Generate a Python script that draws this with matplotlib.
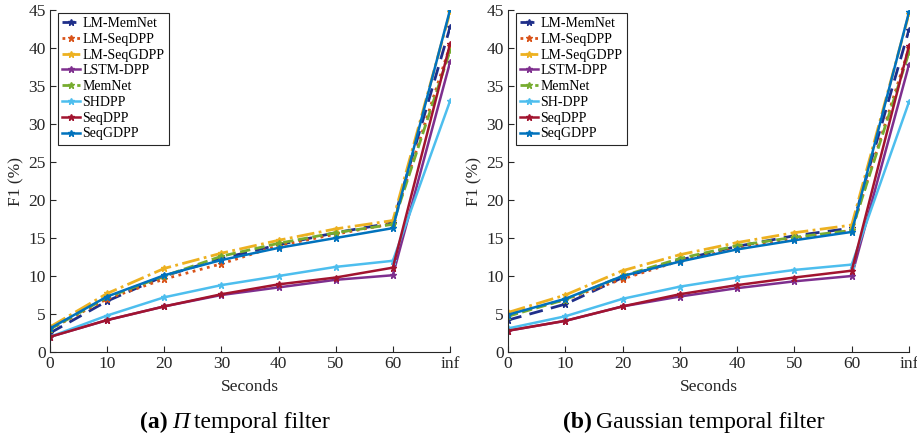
import matplotlib
matplotlib.use("Agg")
import matplotlib.pyplot as plt

plt.rcParams["font.family"] = ["Liberation Serif", "DejaVu Serif"]

seconds = [0, 10, 20, 30, 40, 50, 60, 70]
tick_labels = ["0", "10", "20", "30", "40", "50", "60", "inf"]

names_a = ["LM-MemNet", "LM-SeqDPP", "LM-SeqGDPP", "LSTM-DPP", "MemNet", "SHDPP", "SeqDPP", "SeqGDPP"]
names_b = ["LM-MemNet", "LM-SeqDPP", "LM-SeqGDPP", "LSTM-DPP", "MemNet", "SH-DPP", "SeqDPP", "SeqGDPP"]

# panel (a): Pi temporal filter
lm_memnet_a  = [2.5, 6.7, 10.0, 12.3, 14.1, 15.7, 17.0, 42.7]
lm_seqdpp_a  = [3.0, 7.0, 9.6, 11.6, 14.0, 15.5, 16.9, 40.3]
lm_seqgdpp_a = [3.3, 7.7, 11.0, 13.0, 14.7, 16.2, 17.3, 44.7]
lstm_dpp_a   = [2.0, 4.2, 6.0, 7.5, 8.5, 9.5, 10.1, 38.1]
memnet_a     = [3.0, 7.2, 10.0, 12.6, 14.3, 15.7, 16.8, 39.6]
shdpp_a      = [2.0, 4.8, 7.2, 8.8, 10.0, 11.2, 12.0, 33.0]
seqdpp_a     = [2.0, 4.2, 6.0, 7.6, 8.9, 9.8, 11.1, 40.5]
seqgdpp_a    = [3.1, 7.3, 10.1, 12.1, 13.7, 15.0, 16.3, 45.0]

# panel (b): Gaussian temporal filter
lm_memnet_b  = [4.2, 6.3, 9.8, 12.1, 13.9, 15.3, 16.3, 42.4]
lm_seqdpp_b  = [4.9, 6.9, 9.6, 12.0, 13.6, 14.9, 16.0, 40.0]
lm_seqgdpp_b = [5.2, 7.5, 10.7, 12.8, 14.4, 15.7, 16.7, 44.5]
lstm_dpp_b   = [2.8, 4.1, 6.0, 7.3, 8.4, 9.3, 10.0, 37.8]
memnet_b     = [4.7, 6.9, 10.0, 12.3, 14.0, 15.1, 16.0, 39.4]
shdpp_b      = [3.1, 4.7, 7.0, 8.6, 9.8, 10.8, 11.5, 32.9]
seqdpp_b     = [2.8, 4.1, 6.0, 7.6, 8.8, 9.8, 10.7, 40.3]
seqgdpp_b    = [4.9, 7.0, 10.0, 11.9, 13.5, 14.7, 15.8, 44.7]

colors = ["#1f2f8a", "#d95319", "#edb120", "#7e2f8e", "#77ac30", "#4dbeee", "#a2142f", "#0072bd"]
styles = [(0, (5, 3)), ":", "-.", "-", "--", "-", "-", "-"]
widths = [2.0, 2.0, 2.0, 1.8, 2.0, 1.8, 1.8, 1.8]

series_a = [lm_memnet_a, lm_seqdpp_a, lm_seqgdpp_a, lstm_dpp_a, memnet_a, shdpp_a, seqdpp_a, seqgdpp_a]
series_b = [lm_memnet_b, lm_seqdpp_b, lm_seqgdpp_b, lstm_dpp_b, memnet_b, shdpp_b, seqdpp_b, seqgdpp_b]

fig = plt.figure(figsize=(9.17, 4.41), dpi=100)
ax_a = fig.add_axes([50 / 917, 89 / 441, 400 / 917, 342 / 441])
ax_b = fig.add_axes([508 / 917, 89 / 441, 401 / 917, 342 / 441])

for ax, series, names in [(ax_a, series_a, names_a), (ax_b, series_b, names_b)]:
    for vals, name, c, ls, lw in zip(series, names, colors, styles, widths):
        ax.plot(seconds, vals, color=c, linestyle=ls, linewidth=lw,
                marker="*", markersize=4.5, label=name)
    ax.set_xlim(0, 70)
    ax.set_ylim(0, 45)
    ax.set_xticks(seconds)
    ax.set_xticklabels(tick_labels)
    ax.set_yticks(range(0, 46, 5))
    for s in ["top", "right"]:
        ax.spines[s].set_visible(False)
    for s in ["left", "bottom"]:
        ax.spines[s].set_color("#262626")
        ax.spines[s].set_linewidth(0.8)
    ax.tick_params(direction="in", length=4, labelsize=12.5, colors="#262626", pad=3)
    ax.set_xlabel("Seconds", fontsize=12.5, color="#262626", labelpad=5)
    ax.set_ylabel("F1 (%)", fontsize=12.5, color="#262626", labelpad=3)
    leg = ax.legend(loc="upper left", bbox_to_anchor=(0.012, 1.0), fontsize=10,
                    handlelength=1.3, handletextpad=0.2, labelspacing=0.2,
                    borderpad=0.3, borderaxespad=0.2, fancybox=False, framealpha=1)
    leg.get_frame().set_edgecolor("#262626")
    leg.get_frame().set_linewidth(0.8)


def caption(ax, tag, italic_part, rest):
    # build "(x) <italic> rest" from pieces so the tag is bold and the symbol italic
    pos = ax.get_position()
    xc = pos.x0 * fig.bbox.width + pos.width * fig.bbox.width / 2 - 15
    parts = [(tag, "bold", "normal"), (italic_part, "normal", "italic"), (rest, "normal", "normal")]
    parts = [p for p in parts if p[0]]
    texts = []
    for s, w, st in parts:
        t = fig.text(0, 0.03, s, fontsize=17, fontweight=w, fontstyle=st,
                     ha="left", va="baseline")
        texts.append(t)
    fig.canvas.draw()
    r = fig.canvas.get_renderer()
    widths_px = [tx.get_window_extent(r).width for tx in texts]
    space = 4.5
    total = sum(widths_px) + space * (len(texts) - 1)
    x = xc - total / 2
    for tx, w in zip(texts, widths_px):
        tx.set_x(x / fig.bbox.width)
        x += w + space


caption(ax_a, "(a)", "\u03a0", "temporal filter")
caption(ax_b, "(b)", "", "Gaussian temporal filter")

fig.savefig("out.png", dpi=100)
plt.close(fig)
